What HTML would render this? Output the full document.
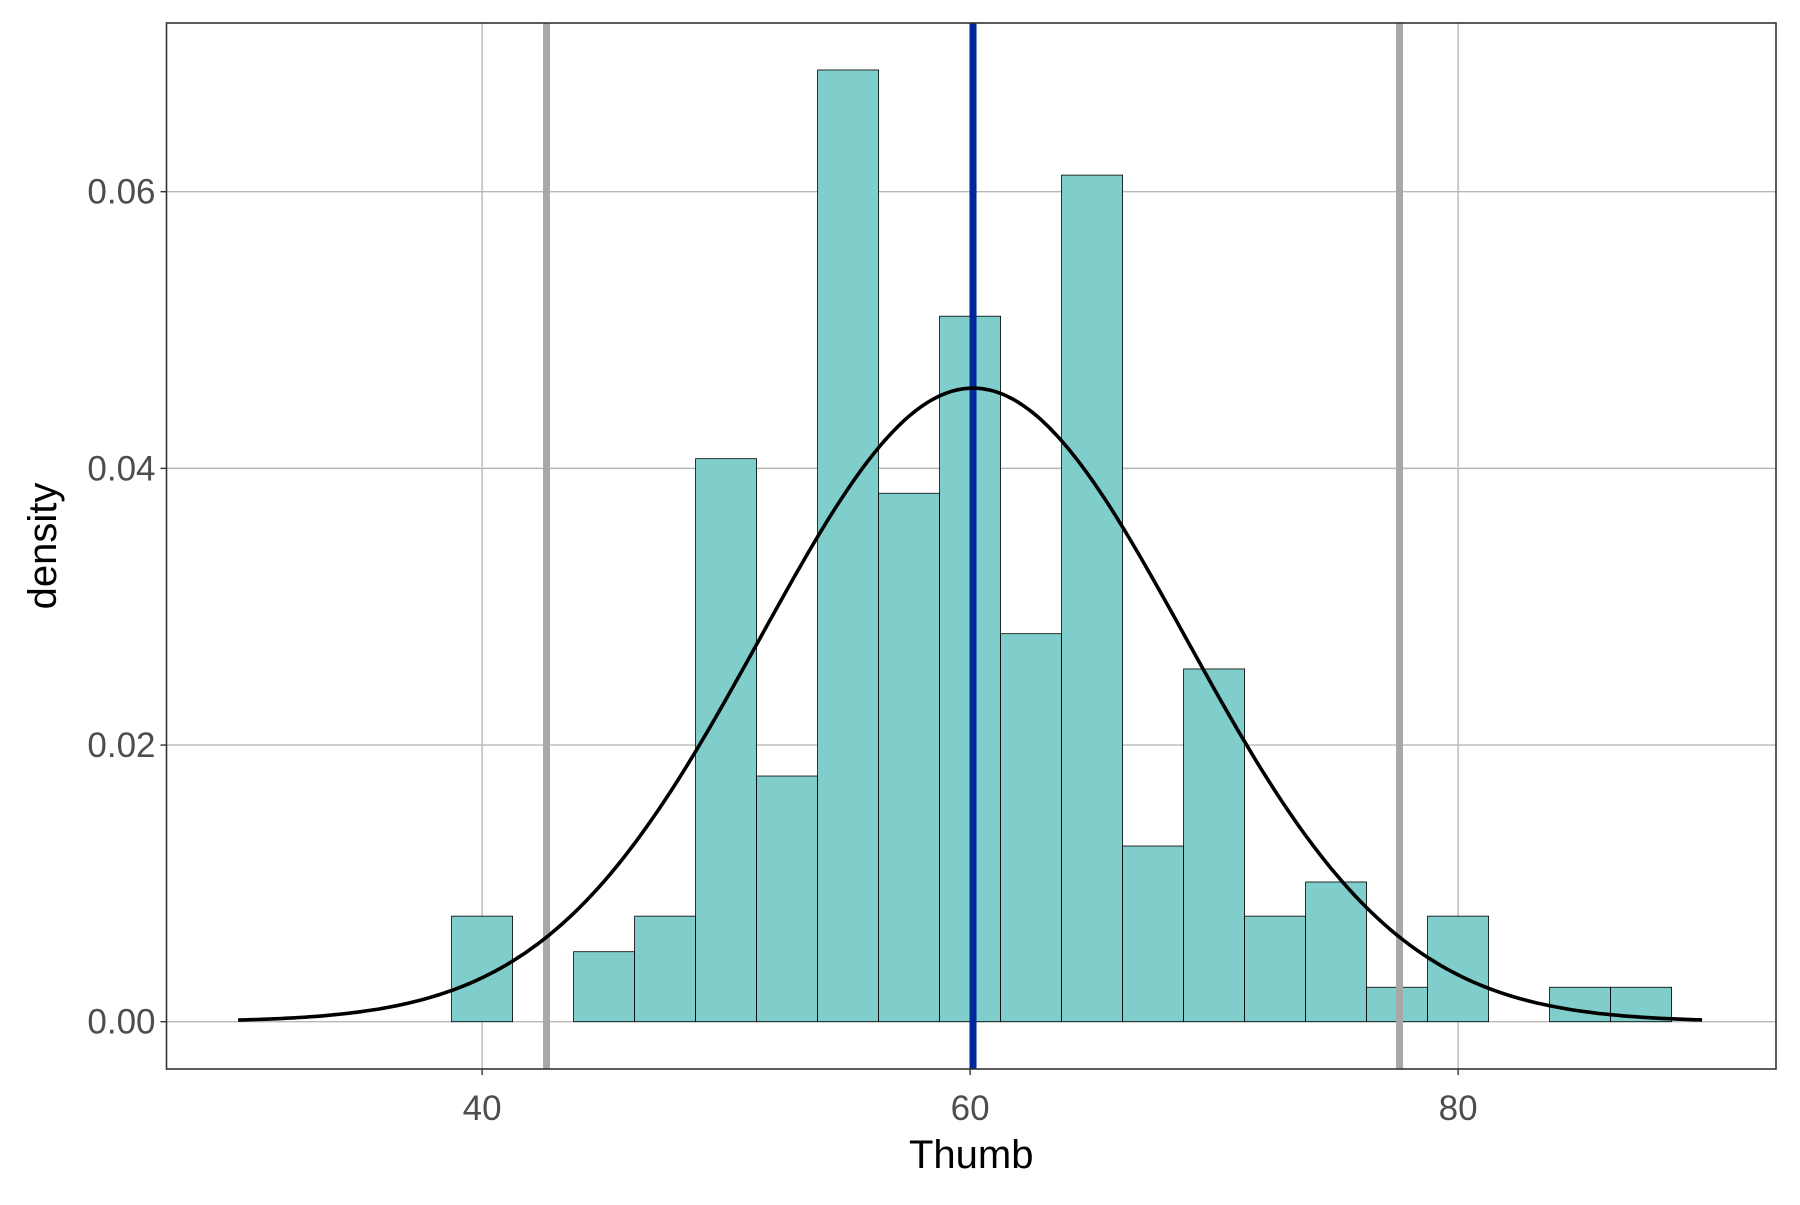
<!DOCTYPE html>
<html><head><meta charset="utf-8"><style>html,body{margin:0;padding:0;background:#fff}</style></head>
<body>
<svg id="s" width="1800" height="1200" xmlns="http://www.w3.org/2000/svg" font-family="Liberation Sans, sans-serif"></svg>
<script>
const X0=166.5,X1=1776,Y0=23,Y1=1069;
const sx=v=>482.1+(v-40)*24.4;
const sy=d=>1021.7-d*830/0.06;
let h='';
h+=`<rect x="${X0}" y="${Y0}" width="${X1-X0}" height="${Y1-Y0}" fill="#fff"/>`;
for(const v of [40,60,80]) h+=`<line x1="${sx(v)}" x2="${sx(v)}" y1="${Y0}" y2="${Y1}" stroke="#b8b8b8" stroke-width="1.4"/>`;
for(const d of [0,0.02,0.04,0.06]) h+=`<line x1="${X0}" x2="${X1}" y1="${sy(d)}" y2="${sy(d)}" stroke="#b8b8b8" stroke-width="1.4"/>`;
const dens=[.00763,0,.00506,.00763,.0407,.01776,.0688,.0382,.0510,.02805,.0612,.0127,.0255,.00763,.0101,.00249,.00763,0,.00249,.00249];
dens.forEach((d,i)=>{if(!d)return;const a=38.75+2.5*i;
h+=`<rect x="${sx(a)}" y="${sy(d)}" width="${sx(a+2.5)-sx(a)}" height="${sy(0)-sy(d)}" fill="#80cecb" stroke="#000" stroke-width="0.8"/>`;});
for(const v of [42.64,77.6]) h+=`<line x1="${sx(v)}" x2="${sx(v)}" y1="${Y0}" y2="${Y1}" stroke="#a8a8a8" stroke-width="7"/>`;
h+=`<line x1="${sx(60.12)}" x2="${sx(60.12)}" y1="${Y0}" y2="${Y1}" stroke="#00289a" stroke-width="7"/>`;
let p=[];const m=60.12,s=8.71;
for(let v=30;v<=90.01;v+=0.25){const d=Math.exp(-0.5*((v-m)/s)**2)/(s*Math.sqrt(2*Math.PI));p.push(sx(v).toFixed(1)+','+sy(d).toFixed(1));}
h+=`<polyline points="${p.join(' ')}" fill="none" stroke="#000" stroke-width="3.6"/>`;
h+=`<rect x="${X0}" y="${Y0}" width="${X1-X0}" height="${Y1-Y0}" fill="none" stroke="#333" stroke-width="1.6"/>`;
for(const v of [40,60,80]){h+=`<line x1="${sx(v)}" x2="${sx(v)}" y1="${Y1}" y2="${Y1+6}" stroke="#333" stroke-width="1.4"/>`;
h+=`<text x="${sx(v)}" y="1120" font-size="35" fill="#4d4d4d" text-anchor="middle">${v}</text>`;}
for(const d of [0,0.02,0.04,0.06]){h+=`<line x1="${X0-6}" x2="${X0}" y1="${sy(d)}" y2="${sy(d)}" stroke="#333" stroke-width="1.4"/>`;
h+=`<text x="${X0-11}" y="${sy(d)+12}" font-size="35" fill="#4d4d4d" text-anchor="end">${d.toFixed(2)}</text>`;}
h+=`<text x="${(X0+X1)/2}" y="1168" font-size="40" fill="#000" text-anchor="middle">Thumb</text>`;
h+=`<text transform="translate(56,${(Y0+Y1)/2}) rotate(-90)" font-size="40" fill="#000" text-anchor="middle">density</text>`;
document.getElementById('s').innerHTML=h;
</script>
</body></html>
